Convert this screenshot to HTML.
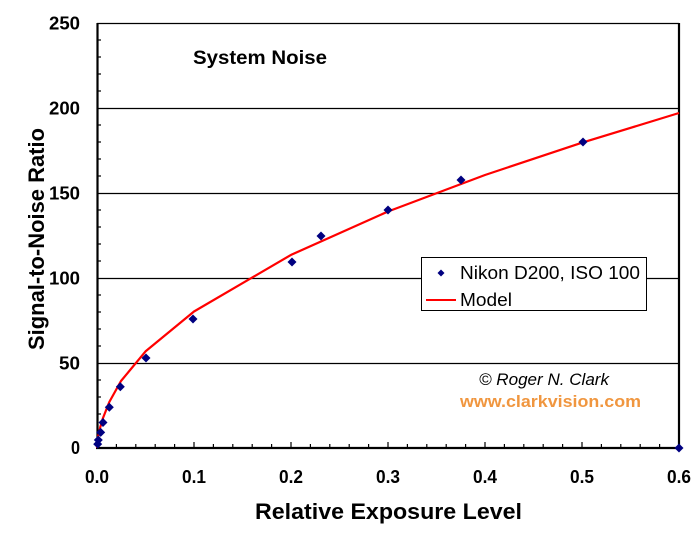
<!DOCTYPE html>
<html><head><meta charset="utf-8"><style>
html,body{margin:0;padding:0;background:#fff;}
svg{display:block;}
text{font-family:"Liberation Sans",Arial,sans-serif;}
</style></head><body>
<svg width="698" height="538" viewBox="0 0 698 538" xmlns="http://www.w3.org/2000/svg">
<rect x="0" y="0" width="698" height="538" fill="#fff"/>
<!-- gridlines -->
<g stroke="#000" stroke-width="1.2">
<line x1="97" y1="108.5" x2="679" y2="108.5"/>
<line x1="97" y1="193.5" x2="679" y2="193.5"/>
<line x1="97" y1="278.5" x2="679" y2="278.5"/>
<line x1="97" y1="363.5" x2="679" y2="363.5"/>
<line x1="97" y1="23.5" x2="679" y2="23.5"/>
</g>
<!-- frame -->
<g stroke="#000" stroke-width="2.2" fill="none">
<line x1="97.5" y1="23" x2="97.5" y2="449"/>
<line x1="679" y1="23" x2="679" y2="449"/>
<line x1="96" y1="448" x2="680" y2="448"/>
</g>
<!-- y ticks -->
<g stroke="#000" stroke-width="1.2">
<line x1="97" y1="431" x2="101" y2="431"/><line x1="97" y1="414" x2="101" y2="414"/><line x1="97" y1="397" x2="101" y2="397"/><line x1="97" y1="380" x2="101" y2="380"/>
<line x1="97" y1="346" x2="101" y2="346"/><line x1="97" y1="329" x2="101" y2="329"/><line x1="97" y1="312" x2="101" y2="312"/><line x1="97" y1="295" x2="101" y2="295"/>
<line x1="97" y1="261" x2="101" y2="261"/><line x1="97" y1="244" x2="101" y2="244"/><line x1="97" y1="227" x2="101" y2="227"/><line x1="97" y1="210" x2="101" y2="210"/>
<line x1="97" y1="176" x2="101" y2="176"/><line x1="97" y1="159" x2="101" y2="159"/><line x1="97" y1="142" x2="101" y2="142"/><line x1="97" y1="125" x2="101" y2="125"/>
<line x1="97" y1="91" x2="101" y2="91"/><line x1="97" y1="74" x2="101" y2="74"/><line x1="97" y1="57" x2="101" y2="57"/><line x1="97" y1="40" x2="101" y2="40"/>
</g>
<!-- x ticks -->
<g stroke="#000" stroke-width="1.2">
<line x1="116.4" y1="448" x2="116.4" y2="444"/><line x1="135.8" y1="448" x2="135.8" y2="444"/><line x1="155.2" y1="448" x2="155.2" y2="444"/><line x1="174.6" y1="448" x2="174.6" y2="444"/><line x1="194" y1="448" x2="194" y2="442"/>
<line x1="213.4" y1="448" x2="213.4" y2="444"/><line x1="232.8" y1="448" x2="232.8" y2="444"/><line x1="252.2" y1="448" x2="252.2" y2="444"/><line x1="271.6" y1="448" x2="271.6" y2="444"/><line x1="291" y1="448" x2="291" y2="442"/>
<line x1="310.4" y1="448" x2="310.4" y2="444"/><line x1="329.8" y1="448" x2="329.8" y2="444"/><line x1="349.2" y1="448" x2="349.2" y2="444"/><line x1="368.6" y1="448" x2="368.6" y2="444"/><line x1="388" y1="448" x2="388" y2="442"/>
<line x1="407.4" y1="448" x2="407.4" y2="444"/><line x1="426.8" y1="448" x2="426.8" y2="444"/><line x1="446.2" y1="448" x2="446.2" y2="444"/><line x1="465.6" y1="448" x2="465.6" y2="444"/><line x1="485" y1="448" x2="485" y2="442"/>
<line x1="504.4" y1="448" x2="504.4" y2="444"/><line x1="523.8" y1="448" x2="523.8" y2="444"/><line x1="543.2" y1="448" x2="543.2" y2="444"/><line x1="562.6" y1="448" x2="562.6" y2="444"/><line x1="582" y1="448" x2="582" y2="442"/>
<line x1="601.4" y1="448" x2="601.4" y2="444"/><line x1="620.8" y1="448" x2="620.8" y2="444"/><line x1="640.2" y1="448" x2="640.2" y2="444"/><line x1="659.6" y1="448" x2="659.6" y2="444"/>
</g>
<!-- model line -->
<polyline fill="none" stroke="#ff0000" stroke-width="2.2" stroke-linejoin="round"
points="97,448 98.3,436 100.3,427 103,418 109.3,402 121,381 145.5,351.4 194,311.5 291,254.9 388,211.5 485,175 582,142.7 679,113"/>
<!-- data -->
<g fill="#000080">
<path d="M97.7,439.6 L102.2,444.1 L97.7,448.6 L93.2,444.1 Z"/>
<path d="M98.3,435.5 L102.8,440 L98.3,444.5 L93.8,440 Z"/>
<path d="M100.7,427.9 L105.2,432.4 L100.7,436.9 L96.2,432.4 Z"/>
<path d="M103,418 L107.5,422.5 L103,427 L98.5,422.5 Z"/>
<path d="M109.3,402.7 L113.8,407.2 L109.3,411.7 L104.8,407.2 Z"/>
<path d="M120.3,382.3 L124.8,386.8 L120.3,391.3 L115.8,386.8 Z"/>
<path d="M146,353.5 L150.5,358 L146,362.5 L141.5,358 Z"/>
<path d="M193,314.5 L197.5,319 L193,323.5 L188.5,319 Z"/>
<path d="M292,257.5 L296.5,262 L292,266.5 L287.5,262 Z"/>
<path d="M321,231.5 L325.5,236 L321,240.5 L316.5,236 Z"/>
<path d="M388,205.5 L392.5,210 L388,214.5 L383.5,210 Z"/>
<path d="M461,175.5 L465.5,180 L461,184.5 L456.5,180 Z"/>
<path d="M583,137.5 L587.5,142 L583,146.5 L578.5,142 Z"/>
<path d="M679,443.5 L683.5,448 L679,452.5 L674.5,448 Z"/>
</g>
<!-- y labels -->
<g font-weight="bold" font-size="18" text-anchor="end" fill="#000">
<text x="80" y="29.5" textLength="31" lengthAdjust="spacingAndGlyphs">250</text>
<text x="80" y="114.5" textLength="31" lengthAdjust="spacingAndGlyphs">200</text>
<text x="80" y="199.5" textLength="31" lengthAdjust="spacingAndGlyphs">150</text>
<text x="80" y="284.5" textLength="31" lengthAdjust="spacingAndGlyphs">100</text>
<text x="80" y="369.5" textLength="21" lengthAdjust="spacingAndGlyphs">50</text>
<text x="80" y="454" textLength="9" lengthAdjust="spacingAndGlyphs">0</text>
</g>
<!-- x labels -->
<g font-weight="bold" font-size="18" text-anchor="middle" fill="#000">
<text x="97" y="483" textLength="24" lengthAdjust="spacingAndGlyphs">0.0</text>
<text x="194" y="483" textLength="24" lengthAdjust="spacingAndGlyphs">0.1</text>
<text x="291" y="483" textLength="24" lengthAdjust="spacingAndGlyphs">0.2</text>
<text x="388" y="483" textLength="24" lengthAdjust="spacingAndGlyphs">0.3</text>
<text x="485" y="483" textLength="24" lengthAdjust="spacingAndGlyphs">0.4</text>
<text x="582" y="483" textLength="24" lengthAdjust="spacingAndGlyphs">0.5</text>
<text x="679" y="483" textLength="24" lengthAdjust="spacingAndGlyphs">0.6</text>
</g>
<!-- axis titles -->
<text x="255" y="519" font-weight="bold" font-size="22" textLength="267" lengthAdjust="spacingAndGlyphs">Relative Exposure Level</text>
<text transform="translate(44,239) rotate(-90)" text-anchor="middle" font-weight="bold" font-size="22" textLength="222" lengthAdjust="spacingAndGlyphs">Signal-to-Noise Ratio</text>
<text x="193" y="64" font-weight="bold" font-size="19" textLength="134" lengthAdjust="spacingAndGlyphs">System Noise</text>
<!-- legend -->
<rect x="421.5" y="257.5" width="225" height="53" fill="#fff" stroke="#000" stroke-width="1"/>
<path d="M441,269.5 L444.5,273 L441,276.5 L437.5,273 Z" fill="#000080"/>
<line x1="426" y1="300" x2="456" y2="300" stroke="#ff0000" stroke-width="2"/>
<text x="460" y="279" font-size="18" textLength="180" lengthAdjust="spacingAndGlyphs">Nikon D200, ISO 100</text>
<text x="460" y="306" font-size="18" textLength="52" lengthAdjust="spacingAndGlyphs">Model</text>
<!-- copyright -->
<text x="479" y="385" font-family="Liberation Serif, serif" font-style="italic" font-size="17" textLength="130" lengthAdjust="spacingAndGlyphs">© Roger N. Clark</text>
<text x="460" y="407" font-weight="bold" font-size="17" fill="#f0963f" textLength="181" lengthAdjust="spacingAndGlyphs">www.clarkvision.com</text>
</svg>
</body></html>
